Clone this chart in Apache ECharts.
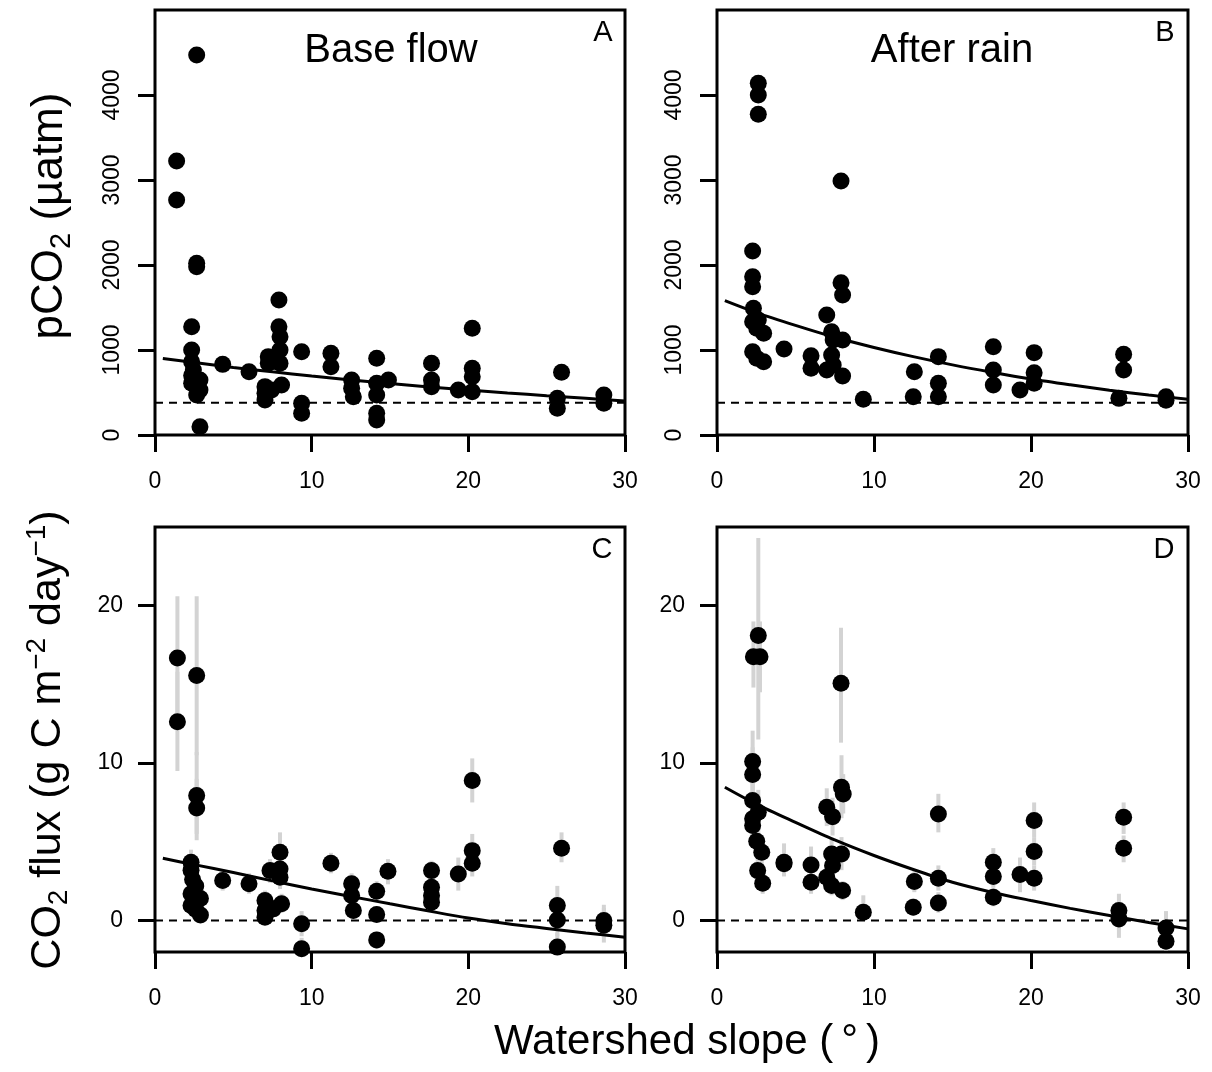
<!DOCTYPE html>
<html>
<head>
<meta charset="utf-8">
<script src="https://cdn.jsdelivr.net/npm/echarts@6/dist/echarts.min.js"></script>
<style>
html,body{margin:0;padding:0;background:#fff;}
#chart{width:1212px;height:1072px;}
</style>
</head>
<body>
<div id="chart"></div>
<script>
// ---------- DATA ----------
const xTicks = [0, 10, 20, 30];
const pco2Ticks = [0, 1000, 2000, 3000, 4000];
const fluxTicks = [0, 10, 20];
const xRange = [0, 30];
const pco2Range = [0, 5000];
const fluxRange = [-2, 25];
const atmPco2 = 380;     // dashed reference line, panels A and B
const zeroFlux = 0;      // dashed reference line, panels C and D

// Panel A: base flow pCO2 [slope, pCO2]
const baseFlowPco2 = [
  [2.66,4471],[1.38,3224],[1.38,2765],[2.66,2020],[2.66,1980],[2.34,1274],[2.34,1000],
  [2.34,863],[2.45,765],[2.34,700],[2.87,647],[2.34,608],[2.87,529],[2.66,471],[2.87,98],
  [4.32,831],[6.0,745],[7.91,1588],[7.91,1274],[7.98,1157],[7.98,1000],[7.23,922],[7.98,843],
  [7.23,843],[7.02,569],[7.02,412],[7.44,529],[8.08,588],[7.02,490],[9.36,980],[9.36,373],
  [9.36,255],[11.23,961],[11.23,804],[12.55,647],[12.55,549],[12.66,451],[14.15,902],[14.15,608],
  [14.15,471],[14.15,255],[14.15,176],[14.9,647],[17.65,843],[17.65,647],[17.65,569],[19.36,529],
  [20.25,1255],[20.25,784],[20.25,686],[20.25,510],[25.95,737],[25.68,431],[25.68,314],
  [28.65,471],[28.65,373]
];
// Panel B: after rain pCO2 [slope, pCO2]
const afterRainPco2 = [
  [2.63,4137],[2.63,4000],[2.63,3773],[7.9,2988],[2.27,2165],[2.27,1863],[2.27,1745],[2.32,1490],
  [2.27,1333],[2.63,1353],[2.53,1255],[2.97,1196],[2.27,980],[2.53,902],[2.97,863],[4.27,1012],
  [5.99,933],[5.99,784],[6.99,1412],[7.3,1216],[7.4,1118],[7.3,941],[7.4,824],[6.99,765],
  [7.9,1792],[8.0,1647],[8.0,1118],[8.0,694],[9.32,420],[12.57,745],[12.5,451],[14.1,922],
  [14.1,608],[14.1,451],[17.6,1039],[17.6,765],[17.6,588],[19.3,529],[20.2,969],[20.2,733],
  [20.2,608],[25.9,949],[25.9,765],[25.6,431],[28.6,450],[28.6,410]
];
// Panel C: base flow CO2 flux [slope, flux, lower, upper]
const baseFlowFlux = [
  [1.43,16.68,12.8,20.6],[1.43,12.63,9.5,15.8],[2.66,15.56,10.5,20.6],[2.66,7.94,5.1,10.7],
  [2.66,7.15,5.5,9.0],[2.3,3.7,2.9,4.5],[2.3,3.2,2.4,4.0],[2.4,2.6,1.9,3.3],[2.6,2.2,1.5,2.9],
  [2.3,1.7,1.0,2.4],[2.9,1.4,0.8,2.0],[2.3,0.95,0.4,1.5],[2.6,0.7,0.2,1.2],[2.9,0.35,-0.1,0.8],
  [4.32,2.54,1.9,3.2],[6.0,2.33,1.7,3.0],[7.02,1.27,0.7,1.9],[7.34,3.17,2.4,3.9],[7.98,4.34,3.2,5.6],
  [7.98,3.28,2.5,4.1],[7.98,2.75,2.0,3.5],[7.02,0.21,-0.2,0.7],[7.55,0.74,0.2,1.3],[8.08,1.06,0.5,1.7],
  [7.02,0.64,0.2,1.1],[9.36,-0.21,-1.0,0.6],[9.36,-1.8,-2.5,-1.1],[11.23,3.64,3.0,4.3],
  [12.55,2.33,1.7,3.0],[12.55,1.59,1.0,2.2],[12.66,0.63,0.1,1.2],[14.15,1.86,1.3,2.5],
  [14.15,0.38,-0.1,0.9],[14.15,-1.23,-1.8,-0.7],[14.87,3.13,2.3,3.9],[17.65,3.17,2.5,3.8],
  [17.65,2.12,1.5,2.8],[17.65,1.59,1.0,2.2],[17.65,1.16,0.7,1.7],[19.36,2.96,1.9,4.0],
  [20.25,8.89,7.5,10.3],[20.25,4.44,3.3,5.5],[20.25,3.64,2.8,4.5],[25.95,4.59,3.7,5.6],
  [25.68,0.95,-0.3,2.2],[25.68,0.04,-1.0,1.1],[25.68,-1.69,-2.0,-0.8],[28.65,0.0,-1.0,1.0],
  [28.65,-0.3,-1.4,0.8]
];
// Panel D: after rain CO2 flux [slope, flux, lower, upper]
const afterRainFlux = [
  [2.63,18.1,11.5,24.3],[2.32,16.76,14.8,19.0],[2.74,16.76,14.5,19.0],[2.27,10.1,8.0,12.06],
  [2.27,9.27,7.5,11.0],[2.27,7.62,6.0,9.3],[2.63,6.88,5.5,8.3],[2.27,6.46,5.2,7.7],[2.27,6.04,4.8,7.3],
  [2.53,5.04,4.0,6.1],[2.85,4.34,3.3,5.4],[2.59,3.17,2.4,4.0],[2.91,2.37,1.7,3.1],
  [4.27,3.7,3.0,4.9],[4.27,3.6,2.8,4.4],[5.99,3.53,2.6,4.7],[5.99,2.43,1.7,3.2],[6.99,7.2,6.0,8.4],
  [7.36,6.6,5.4,7.8],[7.93,8.47,6.5,10.5],[8.04,8.04,6.8,9.3],[7.9,15.07,11.3,18.6],[7.3,4.23,3.2,5.3],
  [7.93,4.23,3.2,5.3],[7.36,3.49,2.6,4.4],[6.99,2.75,2.0,3.5],[7.3,2.22,1.6,2.9],[8.0,1.9,1.3,2.5],
  [9.32,0.53,0.1,1.6],[12.57,2.48,1.8,3.2],[12.5,0.85,0.3,1.4],[14.1,6.77,5.6,8.05],[14.1,2.69,1.9,3.5],
  [14.1,1.12,0.5,1.8],[17.6,3.7,2.9,4.6],[17.6,2.79,2.1,3.5],[17.6,1.48,0.9,2.1],[19.3,2.92,1.8,4.0],
  [20.2,6.35,5.3,7.5],[20.2,4.38,3.5,5.3],[20.2,2.69,1.9,3.5],[25.9,6.56,5.5,7.5],[25.9,4.59,3.7,5.4],
  [25.6,0.63,-1.1,1.7],[25.6,0.1,-0.6,0.8],[28.6,-0.47,-1.1,0.6],[28.6,-1.31,-1.9,-0.7]
];
// Fitted curves at these slopes
const curveX = [0.5, 2.5, 5, 7.5, 10, 12.5, 15, 17.5, 20, 22.5, 25, 27.5, 30];
const baseFlowPco2Fit = [900, 853, 795, 743, 694, 648, 605, 566, 530, 495, 462, 431, 401];
const afterRainPco2Fit = [1580, 1440, 1290, 1150, 1030, 922, 825, 738, 658, 590, 527, 471, 420];
const baseFlowFluxFit = [3.95, 3.55, 3.05, 2.52, 2.0, 1.53, 1.06, 0.6, 0.16, -0.2, -0.5, -0.79, -1.06];
const afterRainFluxFit = [8.47, 7.4, 6.24, 5.12, 4.13, 3.24, 2.43, 1.8, 1.27, 0.77, 0.32, -0.12, -0.53];

const panelLetters = ['A', 'B', 'C', 'D'];
const panelTitles = ['Base flow', 'After rain'];

// ---------- CHART ----------
const FONT = '"Liberation Sans", Arial, Helvetica, sans-serif';
const chart = echarts.init(document.getElementById('chart'), null, {renderer: 'canvas'});

const grids = [
  {left: 155, top: 10, width: 470, height: 425},
  {left: 717, top: 10, width: 471, height: 425},
  {left: 155, top: 527, width: 470, height: 425},
  {left: 717, top: 527, width: 471, height: 425}
].map(g => Object.assign(g, {show: true, borderColor: '#000', borderWidth: 3, backgroundColor: 'transparent'}));

const xAxes = [0, 1, 2, 3].map(i => ({
  type: 'value', gridIndex: i, min: xRange[0], max: xRange[1], interval: 10,
  axisLine: {show: false, onZero: false},
  axisTick: {show: true, inside: false, length: 17, lineStyle: {color: '#000', width: 3}},
  axisLabel: {show: true, margin: 35, color: '#000', fontSize: 23, fontFamily: FONT,
    formatter: v => String(v)},
  splitLine: {show: false}
}));

const yAxes = [0, 1, 2, 3].map(i => {
  const top = i < 2;
  return {
    type: 'value', gridIndex: i,
    min: top ? pco2Range[0] : fluxRange[0],
    max: top ? pco2Range[1] : fluxRange[1],
    axisLine: {show: false, onZero: false},
    axisTick: {show: true, inside: false, length: 17, lineStyle: {color: '#000', width: 3},
      customValues: top ? pco2Ticks : fluxTicks},
    axisLabel: {show: true, color: '#000', fontSize: 23, fontFamily: FONT,
      margin: top ? 31 : 32, rotate: top ? 90 : 0,
      customValues: top ? pco2Ticks : fluxTicks,
      formatter: v => String(v)},
    splitLine: {show: false}
  };
});

function errRender(params, api) {
  const x = api.value(0), lo = api.value(2), hi = api.value(3);
  const p1 = api.coord([x, lo]);
  const p2 = api.coord([x, hi]);
  return {type: 'line', shape: {x1: p1[0], y1: p1[1], x2: p2[0], y2: p2[1]},
    style: {stroke: '#d3d3d3', lineWidth: 4}};
}

const zip = (xs, ys) => xs.map((x, k) => [x, ys[k]]);

const pointSets = [baseFlowPco2, afterRainPco2, baseFlowFlux, afterRainFlux];
const fits = [baseFlowPco2Fit, afterRainPco2Fit, baseFlowFluxFit, afterRainFluxFit];
const refs = [atmPco2, atmPco2, zeroFlux, zeroFlux];

const series = [];
for (let i = 0; i < 4; i++) {
  if (i >= 2) {
    series.push({type: 'custom', xAxisIndex: i, yAxisIndex: i, renderItem: errRender,
      data: pointSets[i], encode: {x: 0, y: 1}, z: 1, clip: true, silent: true});
  }
  series.push({type: 'line', xAxisIndex: i, yAxisIndex: i, showSymbol: false, symbol: 'none',
    data: xRange.map(x => [x, refs[i]]),
    lineStyle: {color: '#000', width: 2, type: [8, 6]}, z: 2, silent: true});
  series.push({type: 'scatter', xAxisIndex: i, yAxisIndex: i, symbol: 'circle', symbolSize: 17,
    data: pointSets[i].map(p => [p[0], p[1]]),
    itemStyle: {color: '#000', opacity: 1}, z: 3, silent: true, clip: true});
  series.push({type: 'line', xAxisIndex: i, yAxisIndex: i, showSymbol: false, symbol: 'none',
    smooth: 0.3,
    data: zip(curveX, fits[i]),
    lineStyle: {color: '#000', width: 3}, z: 4, silent: true});
}

const texts = [];
// panel titles
texts.push({type: 'text', x: 391, y: 51, style: {text: panelTitles[0], font: '40px ' + FONT, fill: '#000', align: 'center', verticalAlign: 'middle'}});
texts.push({type: 'text', x: 952, y: 51, style: {text: panelTitles[1], font: '40px ' + FONT, fill: '#000', align: 'center', verticalAlign: 'middle'}});
// panel letters
[[603, 33], [1165, 33], [602, 550], [1164, 550]].forEach((p, k) => {
  texts.push({type: 'text', x: p[0], y: p[1], style: {text: panelLetters[k], font: '29px ' + FONT, fill: '#000', align: 'center', verticalAlign: 'middle'}});
});
// axis titles
texts.push({type: 'text', x: 687, y: 1042, style: {
  text: '{t|Watershed slope (}{d|°}{t|)}', align: 'center', verticalAlign: 'middle',
  rich: {t: {fontSize: 42, fontFamily: FONT, fill: '#000'}, d: {fontSize: 42, fontFamily: FONT, fill: '#000', padding: [0, 8, 0, 8]}}
}});
texts.push({type: 'text', x: 50, y: 216, rotation: Math.PI / 2, style: {
  text: '{t|pCO}{s|2}{t| (µatm)}', align: 'center', verticalAlign: 'middle',
  rich: {t: {fontSize: 44, fontFamily: FONT, fill: '#000', lineHeight: 52},
         s: {fontSize: 29, fontFamily: FONT, fill: '#000', lineHeight: 29, verticalAlign: 'bottom'}}
}});
texts.push({type: 'text', x: 48, y: 740, rotation: Math.PI / 2, style: {
  text: '{t|CO}{s|2}{t| flux (g C m}{p|−2}{t| day}{p|−1}{t|)}', align: 'center', verticalAlign: 'middle',
  rich: {t: {fontSize: 43, fontFamily: FONT, fill: '#000', lineHeight: 50},
         s: {fontSize: 28, fontFamily: FONT, fill: '#000', lineHeight: 28, verticalAlign: 'bottom'},
         p: {fontSize: 28, fontFamily: FONT, fill: '#000', lineHeight: 28, verticalAlign: 'top'}}
}});

chart.setOption({
  animation: false,
  backgroundColor: '#fff',
  textStyle: {fontFamily: FONT},
  grid: grids,
  xAxis: xAxes,
  yAxis: yAxes,
  series: series,
  graphic: texts
});
</script>
</body>
</html>
